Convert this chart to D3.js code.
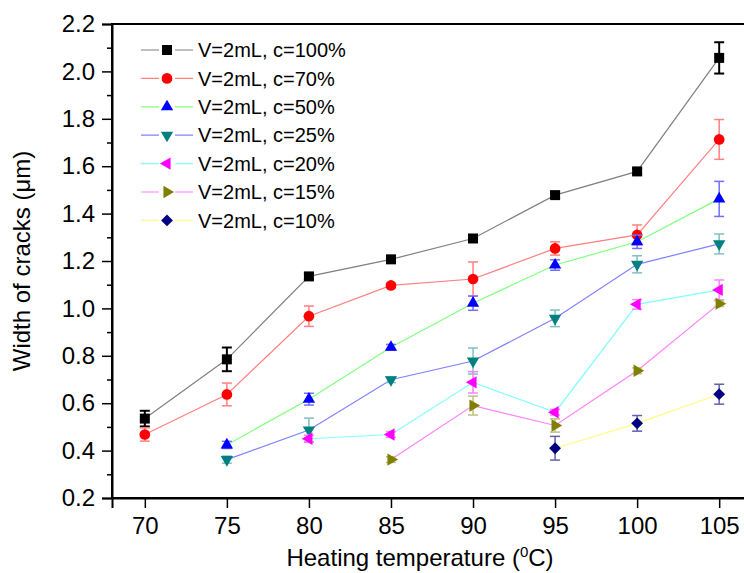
<!DOCTYPE html>
<html>
<head>
<meta charset="utf-8">
<script src="https://cdn.jsdelivr.net/npm/d3@7"></script>
<style>
  body { margin: 0; background: #fff; }
  svg { display: block; font-family: Arial, "Liberation Sans", sans-serif; }
</style>
</head>
<body>
<svg id="chart" width="744" height="573"></svg>
<script>
// temperatures (°C)
const temps = [70, 75, 80, 85, 90, 95, 100, 105];

// crack widths (µm) and error bars, per concentration
const c100 = [0.535, 0.785, 1.135, 1.207, 1.295, 1.478, 1.578, 2.057];
const c100Err = [0.033, 0.05, 0.012, 0.012, 0.012, 0.012, 0.012, 0.066];
const c70 = [0.468, 0.637, 0.967, 1.097, 1.124, 1.253, 1.31, 1.713];
const c70Err = [0.028, 0.048, 0.043, 0.01, 0.072, 0.028, 0.042, 0.084];
const c50 = [null, 0.424, 0.617, 0.836, 1.022, 1.183, 1.281, 1.462];
const c50Err = [0, 0.015, 0.025, 0.012, 0.03, 0.022, 0.028, 0.074];
const c25 = [null, 0.362, 0.487, 0.699, 0.778, 0.958, 1.186, 1.272];
const c25Err = [0, 0.015, 0.05, 0.012, 0.055, 0.035, 0.036, 0.042];
const c20 = [null, null, 0.45, 0.468, 0.688, 0.562, 1.017, 1.078];
const c20Err = [0, 0, 0.015, 0.012, 0.045, 0.012, 0.02, 0.042];
const c15 = [null, null, null, 0.362, 0.59, 0.506, 0.737, 1.02];
const c15Err = [0, 0, 0, 0.012, 0.04, 0.028, 0.012, 0.012];
const c10 = [null, null, null, null, null, 0.41, 0.515, 0.638];
const c10Err = [0, 0, 0, 0, 0, 0.05, 0.033, 0.042];

const labels = ["V=2mL, c=100%", "V=2mL, c=70%", "V=2mL, c=50%", "V=2mL, c=25%",
                "V=2mL, c=20%", "V=2mL, c=15%", "V=2mL, c=10%"];
const yTicks = [0.2, 0.4, 0.6, 0.8, 1.0, 1.2, 1.4, 1.6, 1.8, 2.0, 2.2];

const series = [
  {vals: c100, err: c100Err, marker: "#000000", line: "#808080", bar: "#000000", barW: 2, shape: "square"},
  {vals: c70, err: c70Err, marker: "#ff0000", line: "#ff8080", bar: "#ff8080", barW: 1.5, shape: "circle"},
  {vals: c50, err: c50Err, marker: "#0000ff", line: "#80ff80", bar: "#7070ff", barW: 1.5, shape: "up"},
  {vals: c25, err: c25Err, marker: "#008080", line: "#8080ff", bar: "#80c0c0", barW: 1.5, shape: "down"},
  {vals: c20, err: c20Err, marker: "#ff00ff", line: "#80ffff", bar: "#ff80ff", barW: 1.5, shape: "left"},
  {vals: c15, err: c15Err, marker: "#808000", line: "#ff80ff", bar: "#c0c080", barW: 1.5, shape: "right"},
  {vals: c10, err: c10Err, marker: "#000080", line: "#ffff80", bar: "#6060b0", barW: 1.5, shape: "diamond"}
];

const svg = d3.select("#chart");
const pLeft = 112, pRight = 752, pTop = 24, pBottom = 498;

const x = d3.scaleLinear().domain([68, 107]).range([pLeft, pRight]);
const y = d3.scaleLinear().domain([0.2, 2.2]).range([pBottom, pTop]);

function symbolPath(shape) {
  const sym = {
    square: [d3.symbolSquare, 100], circle: [d3.symbolCircle, 90],
    up: [d3.symbolTriangle, 66], down: [d3.symbolTriangle, 66],
    left: [d3.symbolTriangle, 66], right: [d3.symbolTriangle, 66],
    diamond: [d3.symbolSquare, 70]
  }[shape];
  return d3.symbol().type(sym[0]).size(sym[1])();
}
const rot = {square: 0, circle: 0, up: 0, down: 180, left: -90, right: 90, diamond: 45};

// frame
svg.append("rect").attr("x", pLeft).attr("y", pTop)
  .attr("width", pRight - pLeft).attr("height", pBottom - pTop)
  .attr("fill", "none").attr("stroke", "#000").attr("stroke-width", 2);

// axes
const xAxis = svg.append("g").attr("transform", `translate(0,${pBottom})`)
  .call(d3.axisBottom(x).tickValues(temps).tickSize(10).tickPadding(9).tickFormat(d3.format("d")));
const yAxis = svg.append("g").attr("transform", `translate(${pLeft},0)`)
  .call(d3.axisLeft(y).tickValues(yTicks).tickSize(10).tickPadding(7).tickFormat(d3.format(".1f")));
svg.append("g").attr("transform", `translate(${pLeft},0)`)
  .call(d3.axisLeft(y).tickValues(d3.range(0.3, 2.2, 0.2)).tickSize(5).tickFormat(""))
  .select(".domain").remove();
[xAxis, yAxis].forEach(a => {
  a.select(".domain").attr("stroke-width", 2);
  a.selectAll("text").attr("font-size", 24).attr("fill", "#000");
});
svg.selectAll(".tick line").attr("stroke-width", 1.5);

// axis titles
svg.append("text").attr("x", 420).attr("y", 566).attr("text-anchor", "middle")
  .attr("font-size", 24)
  .call(t => {
    t.append("tspan").text("Heating temperature (");
    t.append("tspan").attr("font-size", 15).attr("dy", -9).text("0");
    t.append("tspan").attr("dy", 9).text("C)");
  });
svg.append("text").attr("transform", "translate(30,261) rotate(-90)")
  .attr("text-anchor", "middle").attr("font-size", 24)
  .text("Width of cracks (\u03bcm)");

// lines
const line = d3.line().x(d => x(d.t)).y(d => y(d.v));
series.forEach(s => {
  const pts = temps.map((t, i) => ({t, v: s.vals[i], e: s.err[i]}));
  s.pts = pts.filter(p => p.v != null);
  svg.append("path").datum(s.pts).attr("d", line)
    .attr("fill", "none").attr("stroke", s.line).attr("stroke-width", 1.2);
});

// error bars and markers
series.forEach(s => {
  const g = svg.append("g");
  const eb = g.selectAll(".eb").data(s.pts).enter().append("g")
    .attr("stroke", s.bar).attr("stroke-width", s.barW);
  eb.append("line").attr("x1", d => x(d.t)).attr("x2", d => x(d.t))
    .attr("y1", d => y(d.v - d.e)).attr("y2", d => y(d.v + d.e));
  eb.append("line").attr("x1", d => x(d.t) - 5).attr("x2", d => x(d.t) + 5)
    .attr("y1", d => y(d.v + d.e)).attr("y2", d => y(d.v + d.e));
  eb.append("line").attr("x1", d => x(d.t) - 5).attr("x2", d => x(d.t) + 5)
    .attr("y1", d => y(d.v - d.e)).attr("y2", d => y(d.v - d.e));
  g.selectAll(".mk").data(s.pts).enter().append("path")
    .attr("d", symbolPath(s.shape))
    .attr("transform", d => `translate(${x(d.t)},${y(d.v)}) rotate(${rot[s.shape]})`)
    .attr("fill", s.marker);
});

// legend
const lg = svg.append("g");
series.forEach((s, i) => {
  const ly = 50 + i * 28.4;
  lg.append("line").attr("x1", 141).attr("x2", 193).attr("y1", ly).attr("y2", ly)
    .attr("stroke", s.line).attr("stroke-width", 1.2);
  lg.append("rect").attr("x", 159).attr("y", ly - 8).attr("width", 16).attr("height", 16).attr("fill", "#fff");
  lg.append("path").attr("d", symbolPath(s.shape))
    .attr("transform", `translate(167,${ly}) rotate(${rot[s.shape]})`)
    .attr("fill", s.marker);
  lg.append("text").attr("x", 198).attr("y", ly).attr("dy", "0.36em")
    .attr("font-size", 20).text(labels[i]);
});
</script>
</body>
</html>
